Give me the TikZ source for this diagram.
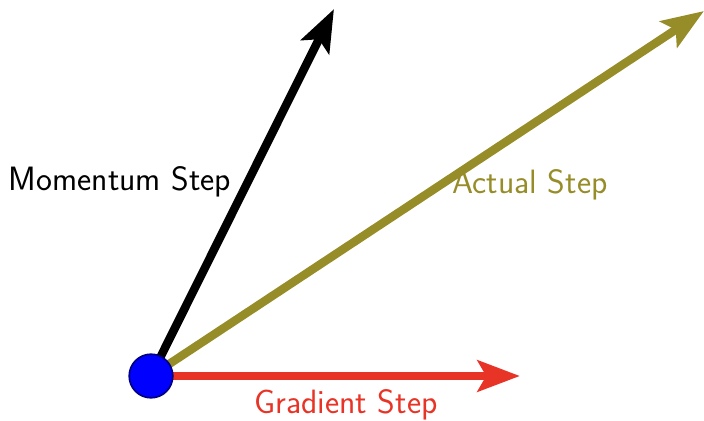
\documentclass[tikz,border=0pt]{standalone}
\usepackage{tikz}
\usetikzlibrary{positioning, arrows.meta}

\definecolor{gradred}{RGB}{232,52,38}
\definecolor{actolive}{RGB}{150,140,40}

\begin{document}
\begin{tikzpicture}[
    x=0.025cm, y=-0.025cm,
    vec arrow/.style={
      -{Stealth[length=30pt, width=22pt, inset=6pt]},
      line width=6pt
    },
    vec label/.style={
      font=\sffamily\fontsize{24}{29}\selectfont
    },
    start dot/.style={
      circle,
      draw=blue!50!black,
      fill=blue,
      line width=1.2pt,
      minimum size=31pt,
      inner sep=0pt
    }
  ]

    \useasboundingbox (0,0) rectangle (704,421);

    \coordinate (origin) at (151,376);
    \coordinate (grad tip) at (520,376);
    \coordinate (mom tip) at (334,9);
    \coordinate (act tip) at (704,11);

    \draw[vec arrow, color=gradred] (origin) -- (grad tip);
    \draw[vec arrow, color=black] (origin) -- (mom tip);
    \draw[vec arrow, color=actolive] (origin) -- (act tip);

    \node[start dot] (dot) at (origin) {};

    \node[vec label, color=black] (mom label) at (120,182) {Momentum Step};
    \node[vec label, color=actolive] (act label) at (530,185) {Actual Step};
    \node[vec label, color=gradred] (grad label) at (346,405) {Gradient Step};

  \end{tikzpicture}
\end{document}
